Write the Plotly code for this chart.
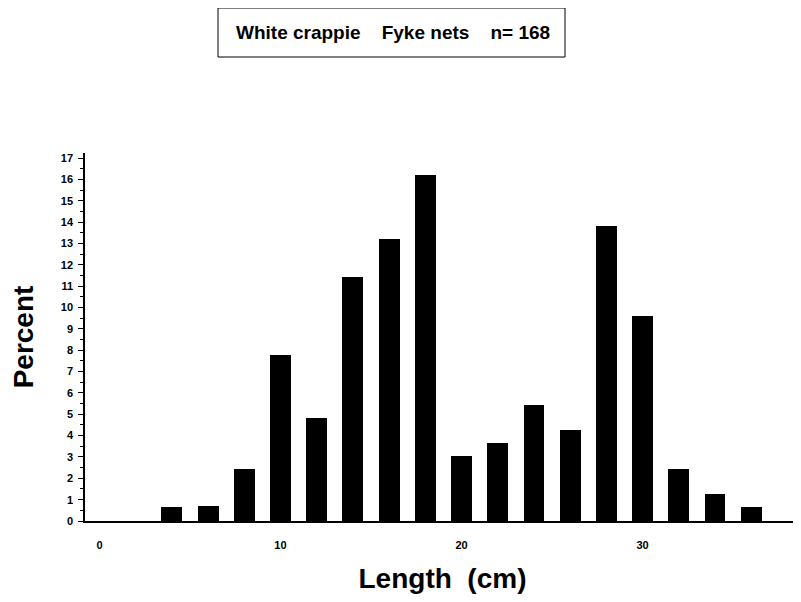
import plotly.graph_objects as go

lengths = [4, 6, 8, 10, 12, 14, 16, 18, 20, 22, 24, 26, 28, 30, 32, 34, 36]
percent = [0.65, 0.68, 2.42, 7.8, 4.83, 11.45, 13.2, 16.2, 3.05, 3.65, 5.45, 4.25, 13.8, 9.6, 2.45, 1.25, 0.65]
x_ticks = [0, 10, 20, 30]
y_ticks = list(range(0, 18))
title_text = "White crappie    Fyke nets    n= 168"

W, H = 793, 594
L, R, T, B = 77, 1, 145, 81
PW, PH = W - L - R, H - T - B


def px(X):
    return (X - 8 - L) / PW


def py(Y):
    return 1 - (Y - 8 - T) / PH


fig = go.Figure()
fig.add_trace(go.Bar(
    x=lengths, y=percent, width=1.15,
    marker=dict(color="black", line=dict(width=0)),
))

fig.update_layout(
    width=W, height=H,
    margin=dict(l=L, r=R, t=T, b=B),
    plot_bgcolor="white", paper_bgcolor="white",
    showlegend=False,
    font=dict(family="Liberation Sans, Arial, sans-serif", color="black"),
    bargap=0,
)
fig.update_xaxes(
    range=[-0.8, 38.7], tickmode="array", tickvals=x_ticks,
    ticktext=[str(v) for v in x_ticks],
    showline=True, linecolor="black", linewidth=1.5,
    ticks="", showgrid=False, zeroline=False,
    tickfont=dict(size=11, weight="bold"), ticklabelstandoff=13,
    title=dict(text="Length  (cm)", font=dict(size=28, weight="bold"), standoff=18),
)
fig.update_yaxes(
    range=[0, 17.24], tickmode="array", tickvals=y_ticks,
    showline=True, linecolor="black", linewidth=1.5,
    ticks="outside", ticklen=5, tickwidth=1, tickcolor="black",
    minor=dict(tickvals=[v + 0.5 for v in y_ticks[:-1]], ticks="outside", ticklen=3, tickwidth=1, tickcolor="black"),
    showgrid=False, zeroline=False,
    tickfont=dict(size=11, weight="bold"), ticklabelstandoff=3,
    title=dict(text="Percent", font=dict(size=28, weight="bold"), standoff=28),
)
fig.add_shape(
    type="rect", xref="paper", yref="paper",
    x0=px(218), x1=px(565), y0=py(57), y1=py(8),
    line=dict(color="black", width=1), fillcolor="white",
)
fig.add_annotation(
    text=title_text, xref="paper", yref="paper", x=px(393), y=py(33),
    xanchor="center", yanchor="middle", showarrow=False,
    font=dict(size=19, weight="bold"),
)
fig.write_html("out.html")
